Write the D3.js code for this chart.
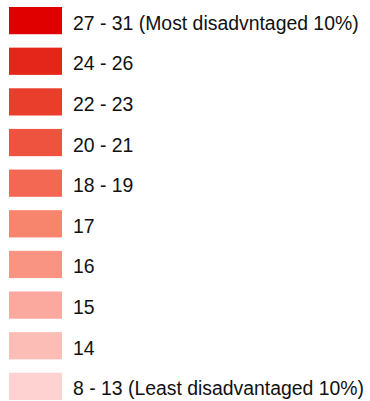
<!DOCTYPE html>
<html>
<head>
<meta charset="utf-8">
<script src="https://cdn.jsdelivr.net/npm/d3@7"></script>
<style>
  body { margin: 0; background: #fff; }
  svg { display: block; }
</style>
</head>
<body>
<svg id="legend" width="370" height="401"></svg>
<script>
// legend classes, most to least disadvantaged
var labels = ["27 - 31 (Most disadvntaged 10%)", "24 - 26", "22 - 23", "20 - 21", "18 - 19",
              "17", "16", "15", "14", "8 - 13 (Least disadvantaged 10%)"];
var colors = ["#e00000", "#e4261a", "#ea3e2c", "#ee5340", "#f36852",
              "#f7846c", "#f99482", "#fba89f", "#fcbdb7", "#fdd2d1"];

var svg = d3.select("#legend"),
    width = +svg.attr("width"),
    height = +svg.attr("height");

var y = d3.scaleBand().domain(d3.range(labels.length)).range([7, 400]).paddingInner(0.33).paddingOuter(0);

var g = svg.append("g");

g.selectAll("rect")
    .data(labels)
    .enter().append("rect")
    .attr("x", 9)
    .attr("y", (d, i) => y(i))
    .attr("width", 53)
    .attr("height", y.bandwidth())
    .attr("fill", (d, i) => colors[i]);

g.selectAll("text")
    .data(labels)
    .enter().append("text")
    .attr("x", 73)
    .attr("y", (d, i) => y(i) + y.bandwidth() / 2 + 9)
    .attr("font-family", "'Liberation Sans', Arial, sans-serif")
    .attr("font-size", "19.4px")
    .attr("fill", "#111")
    .text(d => d);
</script>
</body>
</html>
